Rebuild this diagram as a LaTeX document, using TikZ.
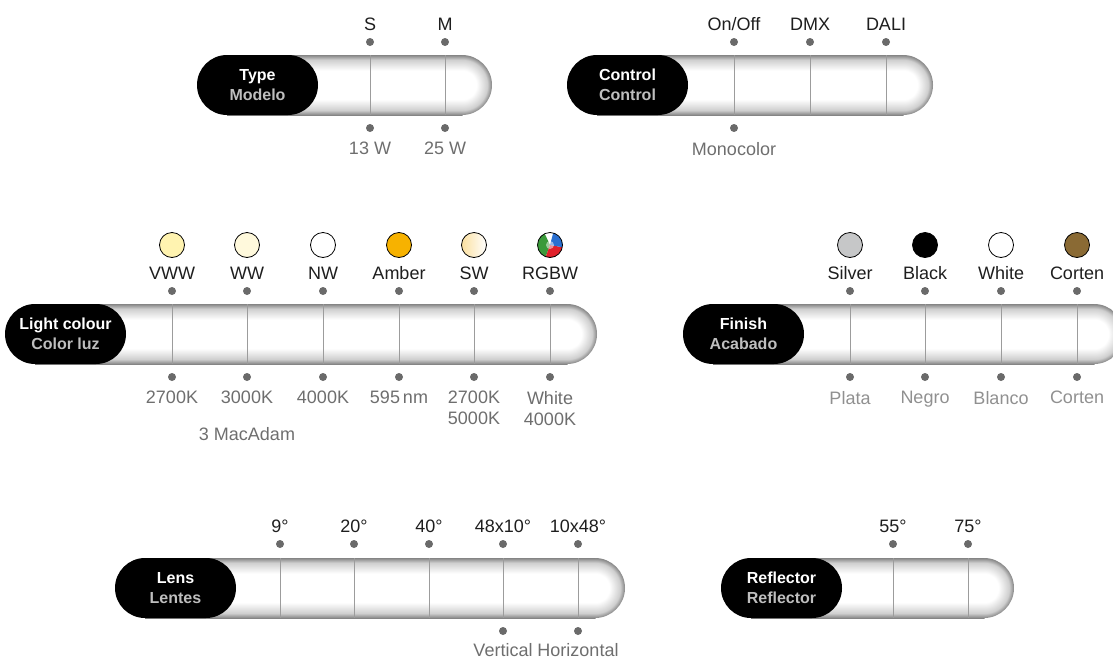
\documentclass[tikz,border=0pt]{standalone}
\usepackage{fontspec}
\setmainfont{Liberation Sans}
\usetikzlibrary{positioning}

\definecolor{tubeedge}{HTML}{858585}
\definecolor{tubemid}{HTML}{CFCFCF}
\definecolor{dotgray}{HTML}{6A6A6A}
\definecolor{linegray}{HTML}{9C9C9C}
\definecolor{labeldark}{HTML}{1E1E1E}
\definecolor{labelgray}{HTML}{6E6E6E}
\definecolor{labellight}{HTML}{909090}
\definecolor{subgray}{HTML}{BEBEBE}
\definecolor{vww}{HTML}{FFF3B0}
\definecolor{ww}{HTML}{FFF9DC}
\definecolor{amber}{HTML}{F7B200}
\definecolor{swwarm}{HTML}{FBE0A0}
\definecolor{silver}{HTML}{C6C7C8}
\definecolor{corten}{HTML}{8A6A34}
\definecolor{rgbwred}{HTML}{E0202A}
\definecolor{rgbwgreen}{HTML}{3A9A3A}
\definecolor{rgbwblue}{HTML}{2A6FD0}

\pgfdeclareverticalshading{tubebody}{100bp}{color(0bp)=(tubeedge); color(25bp)=(tubeedge);
  color(29bp)=(tubemid); color(38bp)=(white); color(62bp)=(white);
  color(71bp)=(tubemid); color(75bp)=(tubeedge); color(100bp)=(tubeedge)}
\pgfdeclareradialshading{tubecap}{\pgfpoint{0bp}{0bp}}{color(0bp)=(white); color(12bp)=(white);
  color(21bp)=(tubemid); color(25bp)=(tubeedge); color(50bp)=(tubeedge)}

\begin{document}
\begin{tikzpicture}[x=1pt, y=-1pt,
    pill/.style={rectangle, rounded corners=30pt, fill=black, minimum width=121pt, minimum height=60pt,
      inner sep=0pt, text=white, align=center, font=\bfseries\fontsize{16}{20}\selectfont},
    divider/.style={draw=linegray, line width=0.8pt},
    dot/.style={circle, fill=dotgray, inner sep=0pt, minimum size=8pt},
    toplabel/.style={anchor=base, inner sep=0pt, text=labeldark, font=\fontsize{18}{21}\selectfont},
    botlabel/.style={anchor=north, inner sep=0pt, text=labelgray, align=center, font=\fontsize{18}{21}\selectfont},
    swatch/.style={circle, draw=black, line width=0.8pt, minimum size=25pt, inner sep=0pt}]

    \useasboundingbox (0,0) rectangle (1113,659);

    % Tubes
    \foreach \xl/\xr/\yc in {197/492/85, 567/933/85, 5/597/334, 683/1124/334, 115/625/588, 721/1014/588} {
      \shade[shading=tubebody] (\xl+30,\yc-30) rectangle (\xr-29.5,\yc+30);
      \begin{scope}
        \clip (\xr-30,\yc-30) rectangle (\xr,\yc+30);
        \shade[shading=tubecap] (\xr-30,\yc) circle (30pt);
      \end{scope}
    }

    % Type
    \node [pill] (type) at (257.5,85) {Type\\\textcolor{subgray}{Modelo}};
    \foreach \x/\abovetxt/\belowtxt [count=\i] in {370/S/13 W, 445/M/25 W} {
      \draw [divider] (\x,55) -- (\x,115);
      \node [dot] (type-up-\i) at (\x,42) {};
      \node [toplabel] (type-name-\i) at (\x,30) {\abovetxt};
      \node [dot] (type-dn-\i) at (\x,128) {};
      \node [botlabel] (type-power-\i) at (\x,142) {\belowtxt};
    }

    % Control
    \node [pill] (control) at (627.5,85) {Control\\\textcolor{subgray}{Control}};
    \foreach \x/\abovetxt [count=\i] in {734/On\slash Off, 810/DMX, 886/DALI} {
      \draw [divider] (\x,55) -- (\x,115);
      \node [dot] (control-up-\i) at (\x,42) {};
      \node [toplabel] (control-name-\i) at (\x,30) {\abovetxt};
    }
    \node [dot] (control-dn-1) at (734,128) {};
    \node [botlabel] (monocolor) at (734,142) {Monocolor};

    % Light colour
    \node [pill] (light) at (65.5,334) {Light colour\\\textcolor{subgray}{Color luz}};
    \foreach \x/\abovetxt/\belowtxt [count=\i] in {172/VWW/2700K, 247/WW/3000K, 323/NW/4000K,
        399/Amber/595\,nm, 474/SW/2700K\\5000K, 550/RGBW/White\\4000K} {
      \draw [divider] (\x,304) -- (\x,364);
      \node [dot] (light-up-\i) at (\x,291) {};
      \node [toplabel] (light-name-\i) at (\x,279) {\abovetxt};
      \node [dot] (light-dn-\i) at (\x,377) {};
      \node [botlabel] (light-temp-\i) at (\x,391) {\belowtxt};
    }
    \node [botlabel] (macadam) at (247,427) {3 MacAdam};
    \node [swatch, fill=vww] (vwwswatch) at (172,245) {};
    \node [swatch, fill=ww] (wwswatch) at (247,245) {};
    \node [swatch, fill=white] (nwswatch) at (323,245) {};
    \node [swatch, fill=amber] (amberswatch) at (399,245) {};
    \node [swatch, left color=swwarm, right color=white] (swswatch) at (474,245) {};
    \begin{scope}[shift={(550,245)}, x=1pt, y=1pt]
      \fill [white] (0,0) -- (75:12.5) arc (75:115:12.5) -- cycle;
      \fill [rgbwgreen] (0,0) -- (115:12.5) arc (115:250:12.5) -- cycle;
      \fill [rgbwred] (0,0) -- (250:12.5) arc (250:350:12.5) -- cycle;
      \fill [rgbwblue] (0,0) -- (-10:12.5) arc (-10:75:12.5) -- cycle;
      \fill [white, opacity=0.5] (0,0) circle (4);
    \end{scope}
    \node [swatch] (rgbwswatch) at (550,245) {};

    % Finish
    \node [pill] (finish) at (743.5,334) {Finish\\\textcolor{subgray}{Acabado}};
    \foreach \x/\abovetxt/\belowtxt/\swatchcol [count=\i] in {850/Silver/Plata/silver, 925/Black/Negro/black,
        1001/White/Blanco/white, 1077/Corten/Corten/corten} {
      \draw [divider] (\x,304) -- (\x,364);
      \node [swatch, fill=\swatchcol] (finish-swatch-\i) at (\x,245) {};
      \node [dot] (finish-up-\i) at (\x,291) {};
      \node [toplabel] (finish-name-\i) at (\x,279) {\abovetxt};
      \node [dot] (finish-dn-\i) at (\x,377) {};
      \node [botlabel, text=labellight] (finish-es-\i) at (\x,391) {\belowtxt};
    }

    % Lens
    \node [pill] (lens) at (175.5,588) {Lens\\\textcolor{subgray}{Lentes}};
    \foreach \x/\abovetxt [count=\i] in {280/9°, 354/20°, 429/40°, 503/48x10°, 578/10x48°} {
      \draw [divider] (\x,558) -- (\x,618);
      \node [dot] (lens-up-\i) at (\x,544) {};
      \node [toplabel] (lens-angle-\i) at (\x,532) {\abovetxt};
    }
    \node [dot] (lens-dn-4) at (503,631) {};
    \node [botlabel] (vertical) at (503,643) {Vertical};
    \node [dot] (lens-dn-5) at (578,631) {};
    \node [botlabel] (horizontal) at (578,643) {Horizontal};

    % Reflector
    \node [pill] (reflector) at (781.5,588) {Reflector\\\textcolor{subgray}{Reflector}};
    \foreach \x/\abovetxt [count=\i] in {893/55°, 968/75°} {
      \draw [divider] (\x,558) -- (\x,618);
      \node [dot] (reflector-up-\i) at (\x,544) {};
      \node [toplabel] (reflector-angle-\i) at (\x,532) {\abovetxt};
    }
\end{tikzpicture}
\end{document}
